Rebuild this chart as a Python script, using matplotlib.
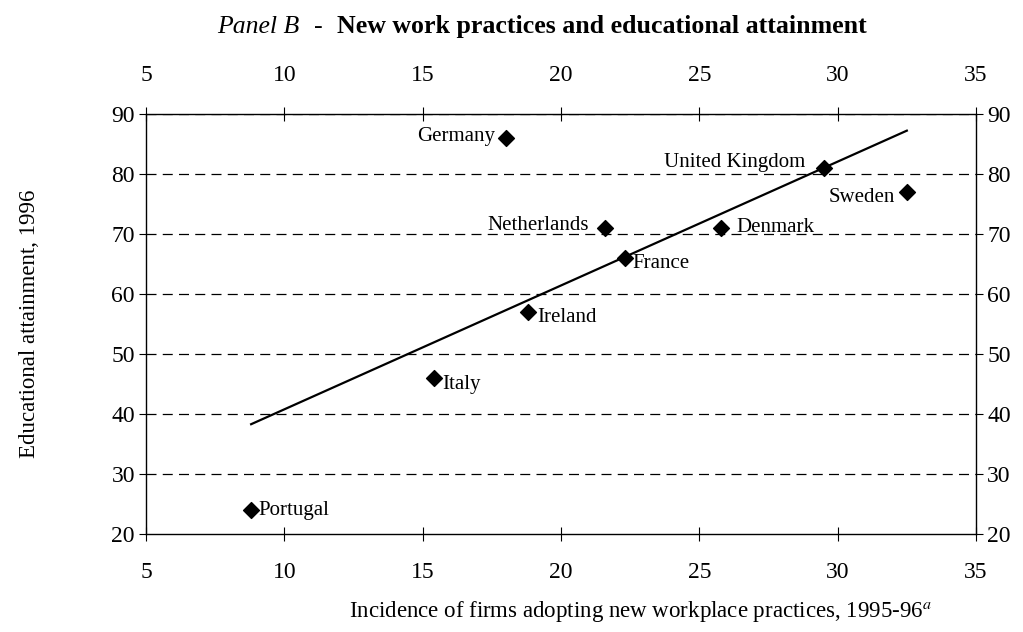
import matplotlib.pyplot as plt
import numpy as np

plt.rcParams['font.family'] = ['Liberation Serif', 'DejaVu Serif']
plt.rcParams['mathtext.fontset'] = 'stix'

countries = ['Portugal', 'Italy', 'Germany', 'Ireland', 'Netherlands',
             'France', 'Denmark', 'United Kingdom', 'Sweden']
incidence = [8.8, 15.4, 18.0, 18.8, 21.6, 22.3, 25.8, 29.5, 32.5]
attainment = [24, 46, 86, 57, 71, 66, 71, 81, 77]

# label offsets in pixels (dx, dy) and horizontal alignment
offsets = {
    'Portugal': (7, 0, 'left'),
    'Italy': (9, -6, 'left'),
    'Germany': (-11, 1, 'right'),
    'Ireland': (9, -5, 'left'),
    'Netherlands': (-16, 2, 'right'),
    'France': (8, -5, 'left'),
    'Denmark': (15, 1, 'left'),
    'United Kingdom': (-19, 5, 'right'),
    'Sweden': (-12, -5, 'right'),
}

W, H = 1023, 632
fig = plt.figure(figsize=(W / 100, H / 100), dpi=100)
ax = fig.add_axes([146 / W, 1 - 534 / H, 830 / W, 420 / H])

ax.set_xlim(5, 35)
ax.set_ylim(20, 90)
ax.set_xticks(np.arange(5, 36, 5))
ax.set_yticks(np.arange(20, 91, 10))

for yv in range(30, 91, 10):
    ax.axhline(yv, color='black', lw=0.9, ls=(0, (8, 5)), zorder=1)

ax.scatter(incidence, attainment, marker='D', s=65, color='black', zorder=3)

# linear trend
slope, icpt = np.polyfit(incidence, attainment, 1)
xs = np.array([min(incidence), max(incidence)])
ax.plot(xs, slope * xs + icpt, color='black', lw=1.6, zorder=2)

for name, x, y in zip(countries, incidence, attainment):
    dx, dy, ha = offsets[name]
    ax.annotate(name, (x, y), xytext=(dx, dy), textcoords='offset pixels',
                ha=ha, va='center', fontsize=15)

for s in ax.spines.values():
    s.set_linewidth(1.0)

ax.tick_params(axis='x', which='both', top=True, bottom=True,
               labeltop=True, labelbottom=True, direction='inout',
               length=10, labelsize=17, pad=15)
ax.tick_params(axis='y', which='both', left=True, right=True,
               labelleft=True, labelright=True, direction='out',
               length=5, labelsize=17, pad=3)

fig.text(30 / W, 1 - 324 / H, 'Educational attainment, 1996', rotation=90,
         ha='center', va='center', fontsize=16.5)
fig.text(640 / W, 1 - 612 / H,
         'Incidence of firms adopting new workplace practices, 1995-96$^{a}$',
         ha='center', va='center', fontsize=16.5)

ty = 1 - 27 / H
fig.text(217 / W, ty, 'Panel B', ha='left', va='center', fontsize=18.5, style='italic')
fig.text(318 / W, ty, '-', ha='center', va='center', fontsize=18.5)
fig.text(337 / W, ty, 'New work practices and educational attainment',
         ha='left', va='center', fontsize=18.6, weight='bold')

plt.savefig('out.png', dpi=100)
